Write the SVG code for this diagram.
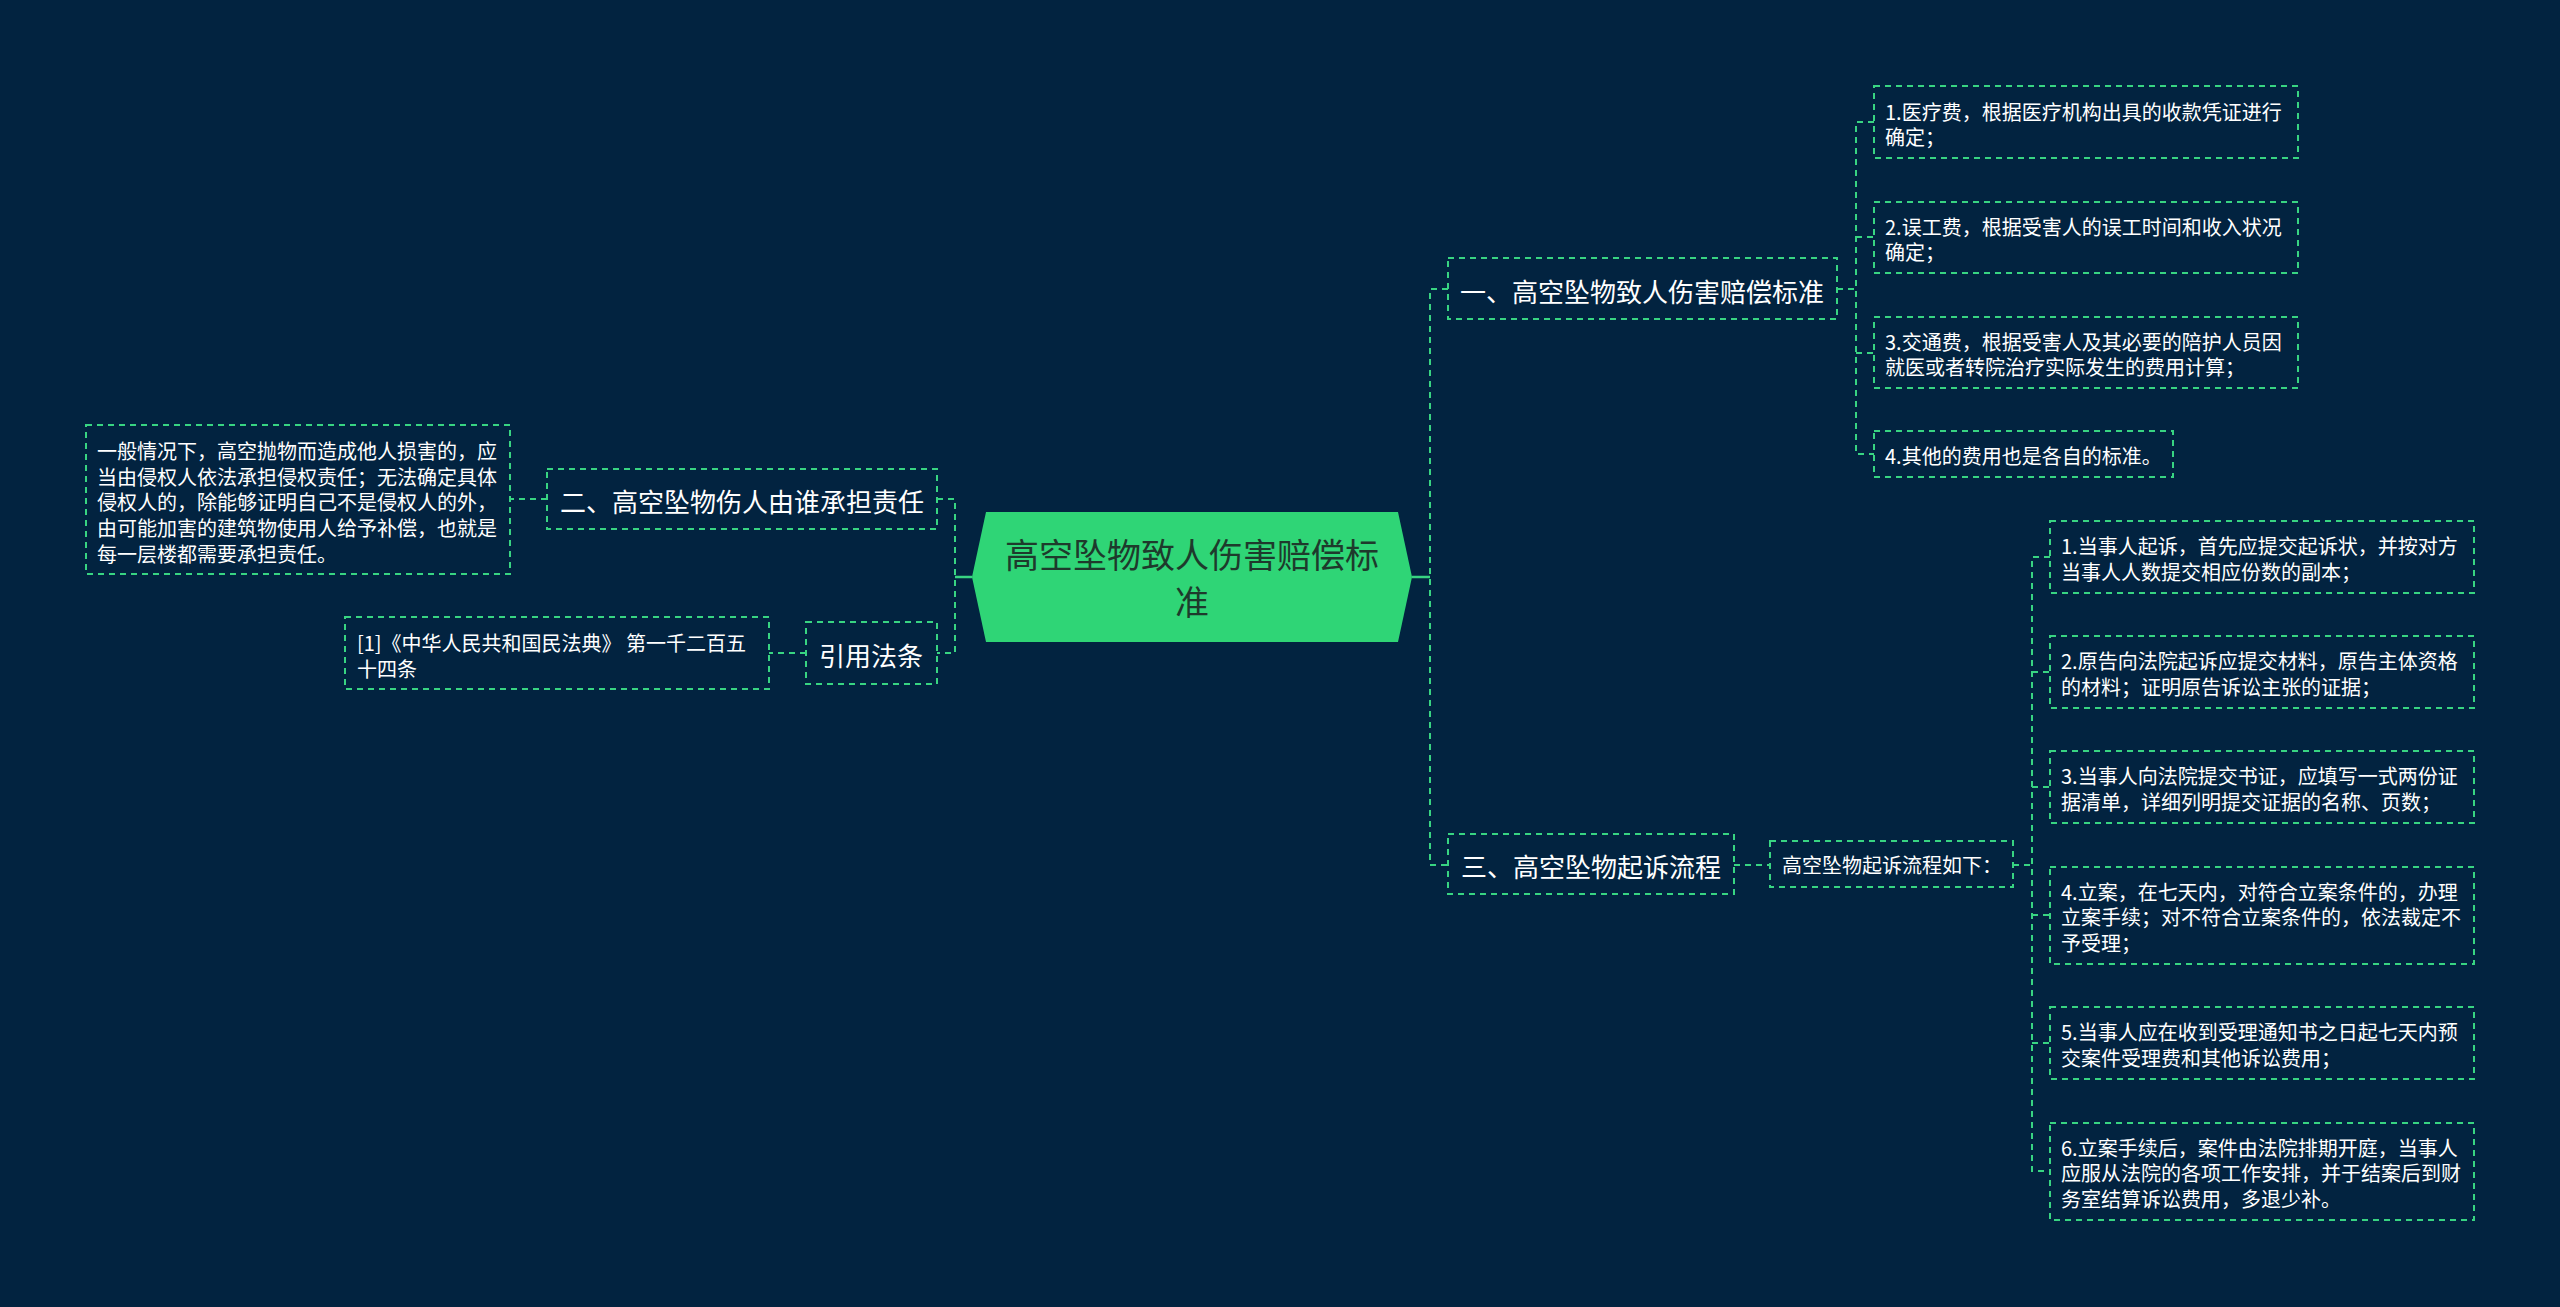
<svg xmlns="http://www.w3.org/2000/svg" width="2560" height="1307" viewBox="0 0 2560 1307">
<style>
.bg{fill:#022340}
.box{fill:none;stroke:#38d482;stroke-width:2;stroke-dasharray:6 5}
.con{fill:none;stroke:#38d482;stroke-width:2;stroke-dasharray:6 5}
.solid{fill:none;stroke:#38d482;stroke-width:2.5}
.t{font-family:"Microsoft YaHei","Noto Sans CJK SC","Noto Sans",sans-serif;fill:#ffffff;dominant-baseline:central}
.b{font-size:26px;text-anchor:middle}
.l{font-size:20px}
.c{font-size:34px;text-anchor:middle;fill:#1e3a2c}
</style>
<rect class="bg" x="0" y="0" width="2560" height="1307"/>
<g id="connectors">
<path class="solid" d="M1412 577 H1430"/>
<path class="con" d="M1448 289 H1430 V865 H1448"/>
<path class="solid" d="M972 577 H955"/>
<path class="con" d="M937 499 H955 V653 H937"/>
<path class="con" d="M547 499 H510"/>
<path class="con" d="M806 653 H769"/>
<path class="con" d="M1837 289 H1856"/>
<path class="con" d="M1874 122 H1856 V454 H1874 M1856 237 H1874 M1856 353 H1874"/>
<path class="con" d="M1734 865 H1770"/>
<path class="con" d="M2013 865 H2032"/>
<path class="con" d="M2050 557 H2032 V1171 H2050 M2032 672 H2050 M2032 787 H2050 M2032 915 H2050 M2032 1043 H2050"/>
</g>
<g id="root">
<polygon points="986,512 1398,512 1412,577 1398,642 986,642 972,577" fill="#2fd576"/>
<text class="t c" x="1192" y="553">高空坠物致人伤害赔偿标</text>
<text class="t c" x="1192" y="600">准</text>
</g>
<g id="branch1">
<rect class="box" x="1448" y="258" width="389" height="61"/>
<text class="t b" x="1642" y="290">一、高空坠物致人伤害赔偿标准</text>
</g>
<g id="branch2">
<rect class="box" x="547" y="469" width="390" height="60"/>
<text class="t b" x="742" y="500">二、高空坠物伤人由谁承担责任</text>
</g>
<g id="branch4">
<rect class="box" x="806" y="622" width="131" height="62"/>
<text class="t b" x="871" y="654">引用法条</text>
</g>
<g id="branch3">
<rect class="box" x="1448" y="834" width="286" height="60"/>
<text class="t b" x="1591" y="865">三、高空坠物起诉流程</text>
</g>
<g id="leaf-left">
<rect class="box" x="86" y="425" width="424" height="149"/>
<text class="t l" x="97" y="450">一般情况下，高空抛物而造成他人损害的，应</text>
<text class="t l" x="97" y="476">当由侵权人依法承担侵权责任；无法确定具体</text>
<text class="t l" x="97" y="501">侵权人的，除能够证明自己不是侵权人的外，</text>
<text class="t l" x="97" y="527">由可能加害的建筑物使用人给予补偿，也就是</text>
<text class="t l" x="97" y="553">每一层楼都需要承担责任。</text>
</g>
<g id="leaf-cite">
<rect class="box" x="345" y="617" width="424" height="72"/>
<text class="t l" x="357" y="642">[1]《中华人民共和国民法典》 第一千二百五</text>
<text class="t l" x="357" y="668">十四条</text>
</g>
<g id="leaf-1-1">
<rect class="box" x="1874" y="86" width="424" height="72"/>
<text class="t l" x="1885" y="111">1.医疗费，根据医疗机构出具的收款凭证进行</text>
<text class="t l" x="1885" y="136">确定；</text>
</g>
<g id="leaf-1-2">
<rect class="box" x="1874" y="202" width="424" height="71"/>
<text class="t l" x="1885" y="226">2.误工费，根据受害人的误工时间和收入状况</text>
<text class="t l" x="1885" y="251">确定；</text>
</g>
<g id="leaf-1-3">
<rect class="box" x="1874" y="317" width="424" height="71"/>
<text class="t l" x="1885" y="341">3.交通费，根据受害人及其必要的陪护人员因</text>
<text class="t l" x="1885" y="366">就医或者转院治疗实际发生的费用计算；</text>
</g>
<g id="leaf-1-4">
<rect class="box" x="1874" y="431" width="299" height="46"/>
<text class="t l" x="1885" y="455">4.其他的费用也是各自的标准。</text>
</g>
<g id="sub3">
<rect class="box" x="1770" y="841" width="243" height="46"/>
<text class="t l" x="1892" y="864" text-anchor="middle">高空坠物起诉流程如下：</text>
</g>
<g id="leaf-3-1">
<rect class="box" x="2050" y="521" width="424" height="72"/>
<text class="t l" x="2061" y="545">1.当事人起诉，首先应提交起诉状，并按对方</text>
<text class="t l" x="2061" y="571">当事人人数提交相应份数的副本；</text>
</g>
<g id="leaf-3-2">
<rect class="box" x="2050" y="636" width="424" height="72"/>
<text class="t l" x="2061" y="660">2.原告向法院起诉应提交材料，原告主体资格</text>
<text class="t l" x="2061" y="686">的材料；证明原告诉讼主张的证据；</text>
</g>
<g id="leaf-3-3">
<rect class="box" x="2050" y="751" width="424" height="72"/>
<text class="t l" x="2061" y="775">3.当事人向法院提交书证，应填写一式两份证</text>
<text class="t l" x="2061" y="801">据清单，详细列明提交证据的名称、页数；</text>
</g>
<g id="leaf-3-4">
<rect class="box" x="2050" y="867" width="424" height="97"/>
<text class="t l" x="2061" y="891">4.立案，在七天内，对符合立案条件的，办理</text>
<text class="t l" x="2061" y="916">立案手续；对不符合立案条件的，依法裁定不</text>
<text class="t l" x="2061" y="942">予受理；</text>
</g>
<g id="leaf-3-5">
<rect class="box" x="2050" y="1007" width="424" height="72"/>
<text class="t l" x="2061" y="1031">5.当事人应在收到受理通知书之日起七天内预</text>
<text class="t l" x="2061" y="1057">交案件受理费和其他诉讼费用；</text>
</g>
<g id="leaf-3-6">
<rect class="box" x="2050" y="1123" width="424" height="97"/>
<text class="t l" x="2061" y="1147">6.立案手续后，案件由法院排期开庭，当事人</text>
<text class="t l" x="2061" y="1172">应服从法院的各项工作安排，并于结案后到财</text>
<text class="t l" x="2061" y="1198">务室结算诉讼费用，多退少补。</text>
</g>
</svg>
